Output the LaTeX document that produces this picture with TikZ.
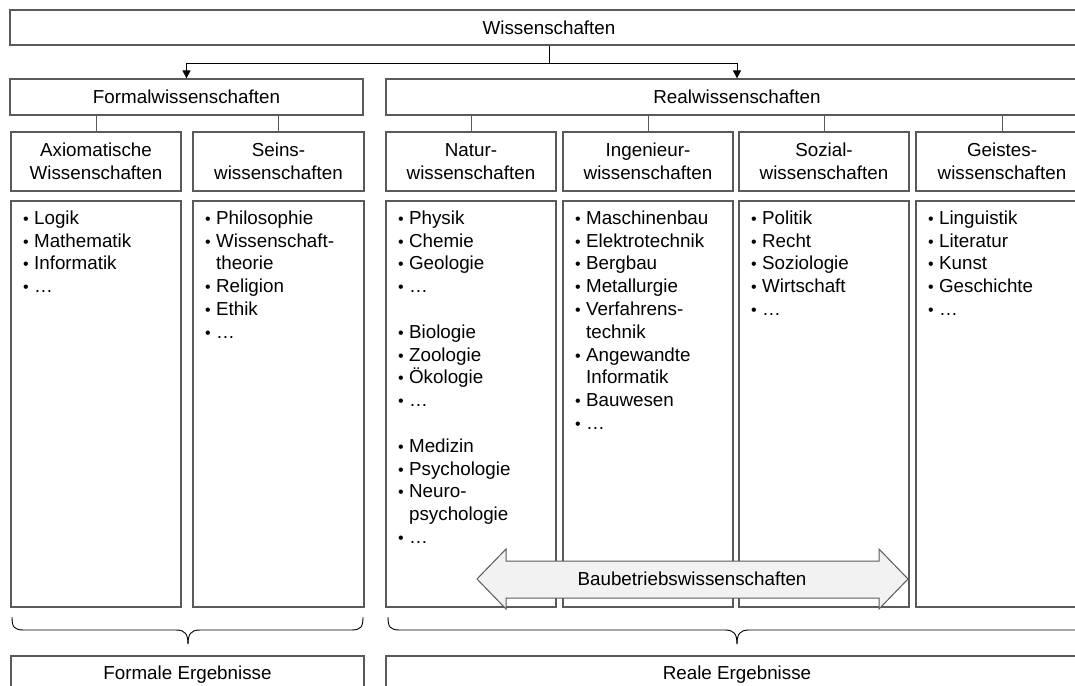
\documentclass[tikz,border=0pt]{standalone}
\usepackage{fontspec}
\setmainfont{Liberation Sans}
\usetikzlibrary{arrows.meta,calc}
\definecolor{bordergray}{HTML}{5A5A5A}
\definecolor{arrowfill}{HTML}{F2F2F2}
\newcommand{\fs}{\fontsize{18.8}{22.8}\selectfont}
\newcommand{\blt}{\makebox[13.5pt][l]{\hspace{2.5pt}\scalebox{0.85}{•}}}
\newcommand{\hng}{\hspace*{13.5pt}}
\begin{document}
\begin{tikzpicture}[x=1pt,y=-1pt,
  box/.style={draw=bordergray, line width=1.2pt, inner sep=0pt, align=center, font=\fs, text=black},
  listtext/.style={anchor=north west, inner sep=0pt, align=left, font=\fs, text=black},
  conn/.style={draw=black, line width=0.9pt},
  hconn/.style={draw=bordergray, line width=1pt},
  arr/.style={conn, -{Triangle[length=8pt,width=8pt]}}]
\useasboundingbox (0,0) rectangle (1075,685);
\clip (0,0) rectangle (1075,685);

% top levels
\node[box, minimum width=1078pt, minimum height=35pt] (top) at (549,27.5) {Wissenschaften};
\node[box, minimum width=353pt, minimum height=36pt] (formal) at (186.5,97) {Formalwissenschaften};
\node[box, minimum width=702pt, minimum height=36pt] (real) at (737,97) {Realwissenschaften};

% headers
\node[box, minimum width=170pt, minimum height=59pt] (h1) at (96,161.5) {Axiomatische\\Wissenschaften};
\node[box, minimum width=171pt, minimum height=59pt] (h2) at (278.5,161.5) {Seins-\\wissenschaften};
\node[box, minimum width=170pt, minimum height=59pt] (h3) at (471,161.5) {Natur-\\wissenschaften};
\node[box, minimum width=170pt, minimum height=59pt] (h4) at (648,161.5) {Ingenieur-\\wissenschaften};
\node[box, minimum width=170pt, minimum height=59pt] (h5) at (824,161.5) {Sozial-\\wissenschaften};
\node[box, minimum width=172pt, minimum height=59pt] (h6) at (1002,161.5) {Geistes-\\wissenschaften};

% content boxes
\node[box, minimum width=170pt, minimum height=406pt] (c1) at (96,404) {};
\node[box, minimum width=171pt, minimum height=406pt] (c2) at (278.5,404) {};
\node[box, minimum width=170pt, minimum height=406pt] (c3) at (471,404) {};
\node[box, minimum width=170pt, minimum height=406pt] (c4) at (648,404) {};
\node[box, minimum width=170pt, minimum height=406pt] (c5) at (824,404) {};
\node[box, minimum width=172pt, minimum height=406pt] (c6) at (1002,404) {};

% lists
\node[listtext] (l1) at ($(c1.north west)+(10,10)$) {\blt Logik\\ \blt Mathematik\\ \blt Informatik\\ \blt …};
\node[listtext] (l2) at ($(c2.north west)+(10,10)$) {\blt Philosophie\\ \blt Wissenschaft-\\ \hng theorie\\ \blt Religion\\ \blt Ethik\\ \blt …};
\node[listtext] (l3) at ($(c3.north west)+(10,10)$) {\blt Physik\\ \blt Chemie\\ \blt Geologie\\ \blt …\\[22.8pt] \blt Biologie\\ \blt Zoologie\\ \blt Ökologie\\ \blt …\\[22.8pt] \blt Medizin\\ \blt Psychologie\\ \blt Neuro-\\ \hng psychologie\\ \blt …};
\node[listtext] (l4) at ($(c4.north west)+(10,10)$) {\blt Maschinenbau\\ \blt Elektrotechnik\\ \blt Bergbau\\ \blt Metallurgie\\ \blt Verfahrens-\\ \hng technik\\ \blt Angewandte\\ \hng Informatik\\ \blt Bauwesen\\ \blt …};
\node[listtext] (l5) at ($(c5.north west)+(10,10)$) {\blt Politik\\ \blt Recht\\ \blt Soziologie\\ \blt Wirtschaft\\ \blt …};
\node[listtext] (l6) at ($(c6.north west)+(10,10)$) {\blt Linguistik\\ \blt Literatur\\ \blt Kunst\\ \blt Geschichte\\ \blt …};

% bottom boxes
\node[box, minimum width=353pt, minimum height=38pt] (b1) at (187.5,675) {Formale Ergebnisse};
\node[box, minimum width=702pt, minimum height=38pt] (b2) at (737,675) {Reale Ergebnisse};

% top connectors
\coordinate (j) at (549,63);
\draw[conn] (top.south) -- (j);
\draw[arr] (j) -| (formal.north);
\draw[arr] (j) -| (real.north);

% level connectors
\foreach \h in {h1,h2} \draw[hconn] (\h.north) -- (\h.north |- formal.south);
\foreach \h in {h3,h4,h5,h6} \draw[hconn] (\h.north) -- (\h.north |- real.south);

% braces
\draw[conn] (12,617) .. controls (12,627) and (14,630) .. (24,630) -- (176,630) .. controls (185,630) and (188,634) .. (188,644);
\draw[conn] (188,644) .. controls (188,634) and (191,630) .. (200,630) -- (351,630) .. controls (361,630) and (363,627) .. (363,617);
\draw[conn] (388,617) .. controls (388,627) and (390,630) .. (400,630) -- (725,630) .. controls (734,630) and (737,634) .. (737,644);
\draw[conn] (737,644) .. controls (737,634) and (740,630) .. (749,630) -- (1090,630);

% double arrow
\draw[draw=bordergray, fill=arrowfill, line width=1pt, line join=miter]
  (477,579) -- (506,549) -- (506,561) -- (879,561) -- (879,549) -- (908,579)
  -- (879,609) -- (879,598) -- (506,598) -- (506,609) -- cycle;
\node[font=\fs, text=black, inner sep=0pt] (bau) at (692,579) {Baubetriebswissenschaften};
\end{tikzpicture}
\end{document}
